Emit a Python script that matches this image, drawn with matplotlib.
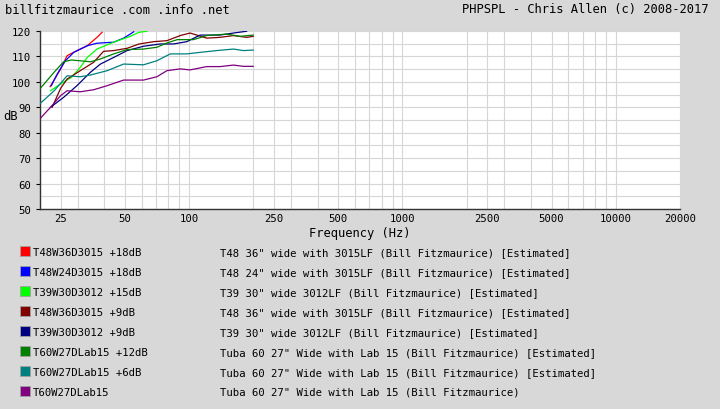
import matplotlib
matplotlib.use("Agg")
import matplotlib.pyplot as plt
from matplotlib.patches import Rectangle
from matplotlib.ticker import FixedLocator, NullFormatter

# frequency response curves (Hz, dB)
red_f = [22.3, 23.7, 25.0, 26.8, 29.8, 33.3, 37.0, 39.1]
red_db = [98.1, 101.8, 105.1, 110.3, 112.3, 114.2, 117.5, 119.5]

blue_f = [22.6, 24.1, 26.3, 28.8, 33.3, 37.0, 44.3, 49.3, 53.0, 55.0]
blue_db = [98.5, 103.1, 108.3, 111.6, 114.2, 115.2, 115.6, 117.2, 118.8, 119.7]

lime_f = [22.4, 25.0, 28.1, 30.9, 33.3, 37.0, 44.3, 53.0, 58.3, 63.5]
lime_db = [96.5, 99.2, 101.8, 105.7, 109.6, 112.9, 115.6, 117.9, 119.5, 119.9]

maroon_f = [22.8, 25.0, 26.8, 30.9, 35.7, 39.7, 44.3, 51.2, 58.3, 68.1, 78.7,
            90.8, 101, 108.6, 120.9, 139.6, 161.4, 186, 199.6]
maroon_db = [90.0, 97.5, 101.1, 104.4, 107.7, 112.0, 112.3, 113.2, 114.9, 115.8, 116.2,
             118.2, 119.2, 118.4, 117.2, 117.5, 118.2, 117.5, 117.9]

navy_f = [22.4, 25.8, 29.8, 34.5, 38.4, 44.3, 51.2, 61.1, 73.2, 84.5, 97.5,
          112.6, 139.6, 161.4, 186]
navy_db = [90.0, 93.9, 98.5, 103.8, 107.0, 109.6, 112.3, 114.0, 114.9, 114.9, 115.8,
           118.4, 118.4, 119.2, 119.9]

green_f = [20.1, 23.3, 25.8, 28.1, 34.5, 38.4, 44.3, 51.2, 61.1, 70.6, 78.7,
           88, 104.7, 120.9, 150, 173, 199.6]
green_db = [97.5, 103.8, 107.9, 108.6, 107.9, 109.0, 111.0, 112.7, 112.9, 113.6, 115.3,
            116.6, 116.6, 118.2, 118.8, 117.9, 118.4]

teal_f = [20.1, 23.3, 26.8, 30.9, 34.5, 41.3, 49.3, 61.1, 70.6, 81.6, 97.5,
          112.6, 134.6, 161.4, 179.8, 199.6]
teal_db = [91.6, 96.5, 102.4, 102.0, 102.7, 104.4, 107.0, 106.7, 108.3, 111.0, 111.0,
           111.6, 112.3, 112.9, 112.3, 112.5]

purple_f = [20.1, 22.4, 25.0, 26.8, 30.9, 35.7, 41.3, 49.3, 61.1, 70.6, 78.7,
            90.8, 101, 120.9, 139.6, 161.4, 179.8, 199.6]
purple_db = [85.7, 90.0, 94.6, 96.5, 96.1, 96.9, 98.5, 100.7, 100.7, 102.0, 104.4,
             105.1, 104.7, 106.0, 106.0, 106.6, 106.1, 106.1]

names = ["T48W36D3015 +18dB", "T48W24D3015 +18dB", "T39W30D3012 +15dB",
         "T48W36D3015 +9dB", "T39W30D3012 +9dB", "T60W27DLab15 +12dB",
         "T60W27DLab15 +6dB", "T60W27DLab15"]
descs = ['T48 36" wide with 3015LF (Bill Fitzmaurice) [Estimated]',
         'T48 24" wide with 3015LF (Bill Fitzmaurice) [Estimated]',
         'T39 30" wide 3012LF (Bill Fitzmaurice) [Estimated]',
         'T48 36" wide with 3015LF (Bill Fitzmaurice) [Estimated]',
         'T39 30" wide 3012LF (Bill Fitzmaurice) [Estimated]',
         'Tuba 60 27" Wide with Lab 15 (Bill Fitzmaurice) [Estimated]',
         'Tuba 60 27" Wide with Lab 15 (Bill Fitzmaurice) [Estimated]',
         'Tuba 60 27" Wide with Lab 15 (Bill Fitzmaurice)']
colors = ["#ff0000", "#0000ff", "#00ff00", "#800000", "#000080", "#008000",
          "#008080", "#800080"]
curves = [(red_f, red_db), (blue_f, blue_db), (lime_f, lime_db), (maroon_f, maroon_db),
          (navy_f, navy_db), (green_f, green_db), (teal_f, teal_db), (purple_f, purple_db)]

xticks = [25, 50, 100, 250, 500, 1000, 2500, 5000, 10000, 20000]
xgrid = [20, 25, 30, 40, 50, 60, 70, 80, 90, 100, 200, 250, 300, 400, 500, 600, 700,
         800, 900, 1000, 2000, 2500, 3000, 4000, 5000, 6000, 7000, 8000, 9000, 10000, 20000]
yticks = [50, 60, 70, 80, 90, 100, 110, 120]

plt.rcParams["font.family"] = "DejaVu Sans Mono"
bg = "#d8d8d8"
W, H = 720, 410
fig = plt.figure(figsize=(7.2, 4.1), dpi=100, facecolor=bg)
ax = fig.add_axes([40 / W, 1 - 210 / H, 640 / W, 178 / H])
ax.set_facecolor("white")

ax.set_xscale("log")
ax.set_xlim(20, 20000)
ax.set_ylim(50, 120)

for f in xgrid:
    ax.axvline(f, color="#d6d6d6", lw=0.8, zorder=0)
for v in range(50, 121, 5):
    ax.axhline(v, color="#d6d6d6", lw=0.8, zorder=0)

for (fx, dbs), c in zip(curves, colors):
    ax.plot(fx, dbs, color=c, lw=0.9, zorder=3)

ax.xaxis.set_major_locator(FixedLocator(xticks))
ax.xaxis.set_minor_locator(FixedLocator([]))
ax.xaxis.set_minor_formatter(NullFormatter())
ax.set_xticklabels([str(t) for t in xticks])
ax.set_yticks(yticks)
ax.tick_params(axis="both", labelsize=7.7, colors="black", length=3, width=0.8)
ax.tick_params(axis="x", length=0, pad=3)

for s in ["top", "right"]:
    ax.spines[s].set_visible(False)
for s in ["left", "bottom"]:
    ax.spines[s].set_color("#333333")
    ax.spines[s].set_linewidth(1)

fig.text(360 / W, 1 - 234 / H, "Frequency (Hz)", ha="center", va="center", fontsize=8.7)
fig.text(3 / W, 1 - 117 / H, "dB", ha="left", va="center", fontsize=8.7)
fig.text(5 / W, 1 - 10 / H, "billfitzmaurice .com .info .net", ha="left", va="center", fontsize=8.7)
fig.text(708 / W, 1 - 10 / H, "PHPSPL - Chris Allen (c) 2008-2017", ha="right", va="center",
         fontsize=8.7)

# legend block under the chart
for i, (n, d, c) in enumerate(zip(names, descs, colors)):
    yc = 252 + 20 * i
    fig.patches.append(Rectangle((20 / W, 1 - (yc + 5) / H), 10 / W, 10 / H,
                                 transform=fig.transFigure, facecolor=c,
                                 edgecolor="#a0a0a0", lw=0.6))
    fig.text(33 / W, 1 - (yc + 1) / H, n, ha="left", va="center", fontsize=7.7)
    fig.text(220 / W, 1 - (yc + 1) / H, d, ha="left", va="center", fontsize=7.7)

fig.savefig("out.png", dpi=100, facecolor=bg)
